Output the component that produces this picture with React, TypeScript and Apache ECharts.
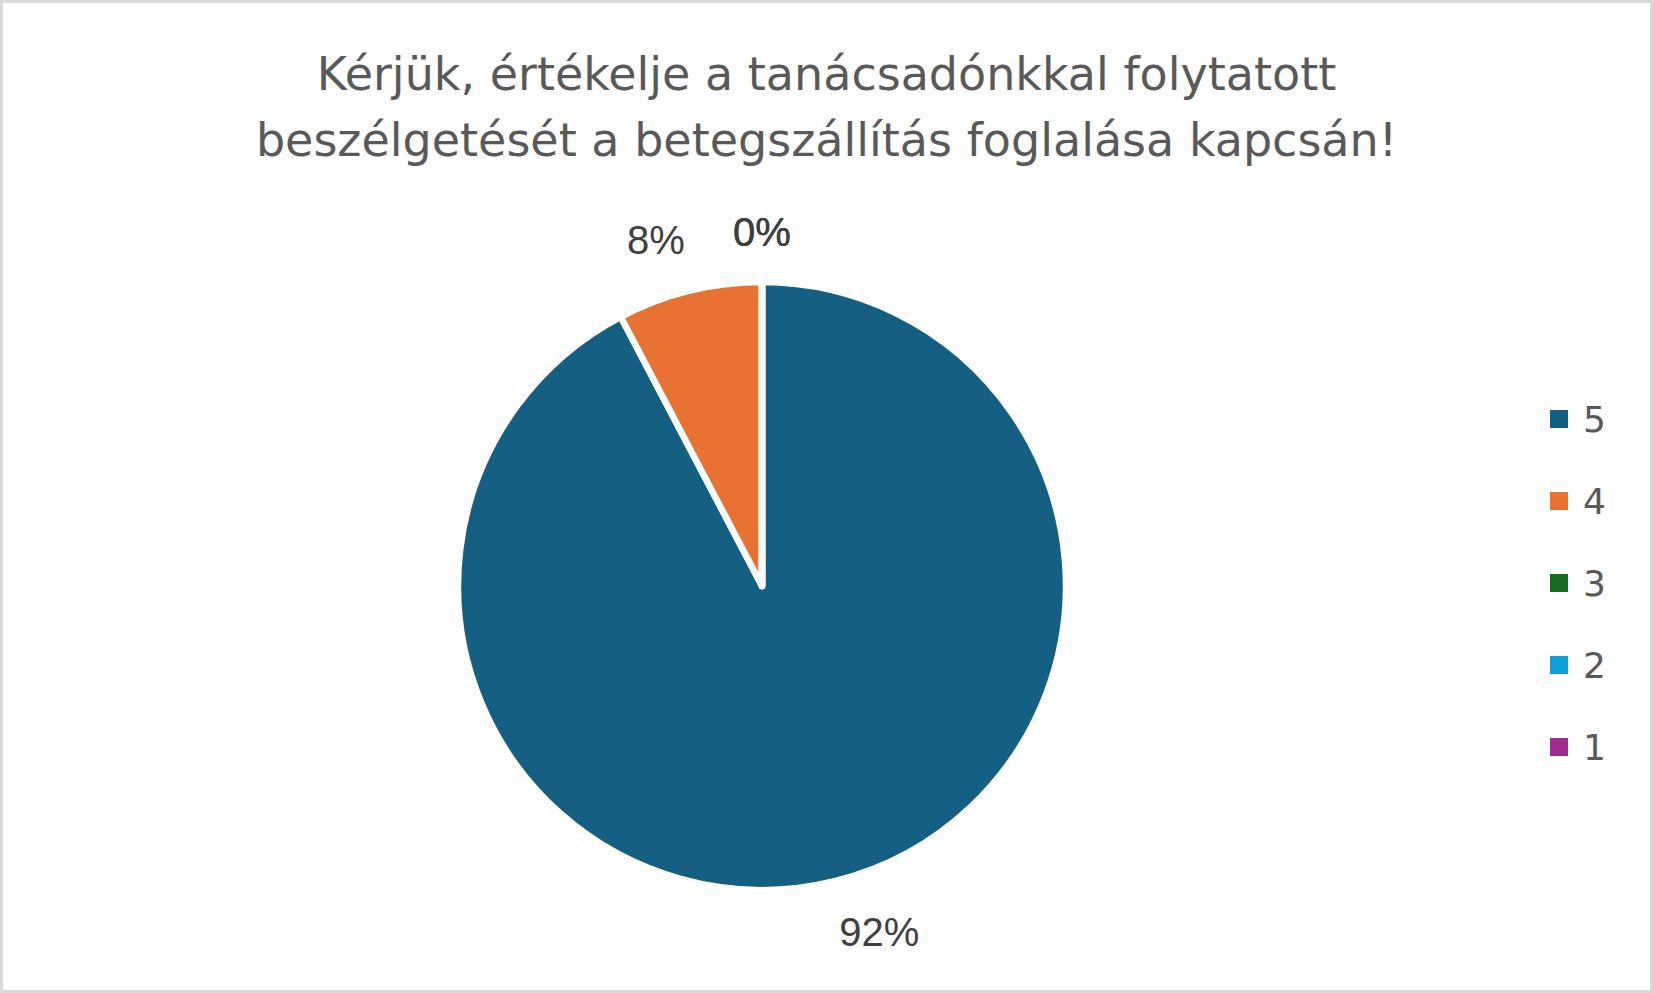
import * as echarts from "echarts";
import { useEffect, useRef } from "react";

const titleLines = [
  "Kérjük, értékelje a tanácsadónkkal folytatott",
  "beszélgetését a betegszállítás foglalása kapcsán!",
];
const ratings = ["5", "4", "3", "2", "1"];
const answers = [12, 1, 0, 0, 0];
const ratingColors = ["#156082", "#E97132", "#196B24", "#0F9ED5", "#A02B93"];

const App = () => {
  const chartRef = useRef<HTMLDivElement>(null);

  useEffect(() => {
    if (!chartRef.current) return;

    const myChart = echarts.init(chartRef.current, undefined, { renderer: "svg" });

    const option: echarts.EChartsCoreOption = {
      animation: false,
      title: {
        text: titleLines.join("\n"),
        left: "center",
        top: 38,
        padding: 0,
        textStyle: {
          fontFamily: "DejaVu Sans",
          fontSize: 46,
          fontWeight: "normal",
          color: "#595959",
          lineHeight: 66,
        },
      },
      legend: {
        orient: "vertical",
        left: 1547,
        top: 396,
        padding: 0,
        itemWidth: 18,
        itemHeight: 18,
        itemGap: 42,
        icon: "rect",
        selectedMode: false,
        itemStyle: { borderWidth: 0 },
        textStyle: {
          fontFamily: "DejaVu Sans",
          fontSize: 36,
          color: "#595959",
          lineHeight: 40,
          padding: [0, 0, 0, 10],
        },
        data: ratings,
      },
      series: [
        {
          name: "Értékelés",
          type: "pie",
          center: [759, 583],
          radius: 304,
          startAngle: 90,
          clockwise: true,
          avoidLabelOverlap: false,
          percentPrecision: 0,
          emphasis: { disabled: true },
          itemStyle: {
            borderColor: "#ffffff",
            borderWidth: 6.5,
          },
          label: {
            show: true,
            position: "outside",
            formatter: "{d}%",
            fontFamily: "Liberation Sans",
            fontSize: 40,
            color: "#404040",
          },
          labelLine: {
            show: false,
            length: 52,
            length2: -13,
          },
          // zero slices sit exactly at the top: centre their labels there
          labelLayout: (params: { dataIndex: number }) =>
            answers[params.dataIndex] === 0 ? { align: "center" } : {},
          data: ratings.map((name, i) => ({
            name,
            value: answers[i],
            itemStyle: { color: ratingColors[i] },
            labelLine: answers[i] === 0 ? { length: 50, length2: -5 } : undefined,
          })),
        },
      ],
    };

    myChart.setOption(option);

    return () => {
      myChart.dispose();
    };
  }, []);

  return (
    <div
      style={{
        position: "fixed",
        left: 0,
        top: 0,
        width: 1653,
        height: 993,
        boxSizing: "border-box",
        border: "3px solid #d9d9d9",
        background: "#ffffff",
      }}
    >
      <div ref={chartRef} style={{ width: "1647px", height: "987px" }} />
    </div>
  );
};

export default App;
